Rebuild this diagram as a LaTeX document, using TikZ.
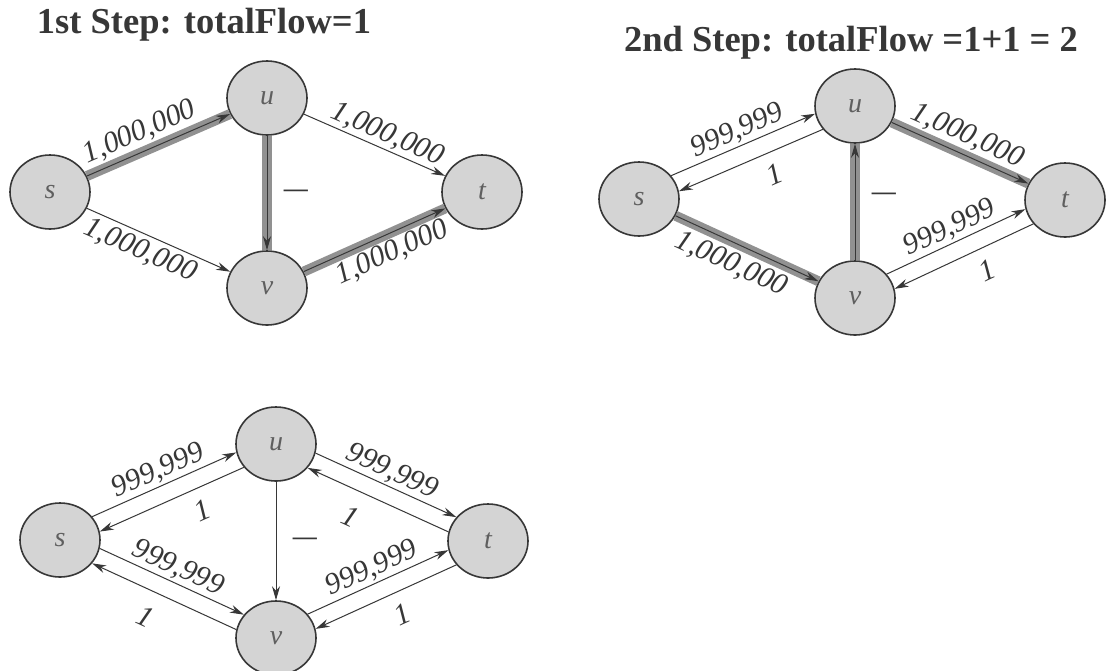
\documentclass[tikz,border=0pt]{standalone}
\usepackage{fontspec}
\setmainfont{Liberation Serif}
\usetikzlibrary{arrows.meta,shapes.geometric}
\definecolor{inkgray}{RGB}{55,55,55}
\definecolor{nodefill}{RGB}{212,212,212}
\definecolor{bandgray}{RGB}{145,145,145}

\begin{document}
\begin{tikzpicture}[
  x=1pt, y=-1pt,
  vertex/.style={
    ellipse, draw=inkgray, line width=1.6pt, fill=nodefill,
    minimum width=80pt, minimum height=74pt, inner sep=0pt,
    font=\fontsize{28}{30}\selectfont\itshape, text=inkgray!80
  },
  arrow/.style={-{Stealth[length=14pt,width=8pt]}, line width=1pt, draw=inkgray},
  flow/.style={line width=10pt, draw=bandgray},
  lbl/.style={font=\fontsize{30}{32}\selectfont\itshape, text=inkgray, inner sep=2pt, sloped},
  dashlbl/.style={font=\fontsize{24}{26}\selectfont\bfseries, text=inkgray, right=13pt},
  title/.style={font=\fontsize{36.5}{40}\selectfont\bfseries, text=inkgray}
]
\useasboundingbox[fill=white] (0,0) rectangle (1107,670);

% step 1
\node[title] (head1) at (204,25) {1st Step: totalFlow=1};
\node[vertex] (s1) at (50,192) {s};
\node[vertex] (u1) at (267,98) {u};
\node[vertex] (v1) at (267,288) {v};
\node[vertex] (t1) at (482,192) {t};

\draw[flow] (s1) -- (u1);
\draw[flow] (u1) -- (v1);
\draw[flow] (v1) -- (t1);
\draw[arrow] (s1) -- node[lbl, above=4pt, pos=0.42] {1,000,000} (u1);
\draw[arrow] (u1) -- node[lbl, above, pos=0.55] {1,000,000} (t1);
\draw[arrow] (s1) -- node[lbl, below=2pt, pos=0.42] {1,000,000} (v1);
\draw[arrow] (u1) -- node[dashlbl] {—} (v1);
\draw[arrow] (v1) -- node[lbl, below=4pt, pos=0.57] {1,000,000} (t1);

% step 2
\node[title] (head2) at (851,43) {2nd Step: totalFlow =1+1 = 2};
\node[vertex] (s2) at (639,199) {s};
\node[vertex] (u2) at (855,106) {u};
\node[vertex] (v2) at (855,298) {v};
\node[vertex] (t2) at (1065,200) {t};

\draw[flow] (u2) -- (t2);
\draw[flow] (s2) -- (v2);
\draw[flow] (v2) -- (u2);
\draw[arrow] (s2.36) -- node[lbl, above] {999,999} (u2.191);
\draw[arrow] (u2.216) -- node[lbl, below=10pt, pos=0.4] {1} (s2.11);
\draw[arrow] (u2) -- node[lbl, above=4pt] {1,000,000} (t2);
\draw[arrow] (s2) -- node[lbl, below=6pt, pos=0.45] {1,000,000} (v2);
\draw[arrow] (v2) -- node[dashlbl, pos=0.55] {—} (u2);
\draw[arrow] (v2.37) -- node[lbl, above] {999,999} (t2.193);
\draw[arrow] (t2.217) -- node[lbl, below=10pt, pos=0.4] {1} (v2.13);

% step 3
\node[vertex] (s3) at (60,540) {s};
\node[vertex] (u3) at (276,444) {u};
\node[vertex] (v3) at (276,638) {v};
\node[vertex] (t3) at (488,541) {t};

\draw[arrow] (s3.36) -- node[lbl, above] {999,999} (u3.192);
\draw[arrow] (u3.216) -- node[lbl, below=10pt, pos=0.35] {1} (s3.12);
\draw[arrow] (u3.-13) -- node[lbl, above] {999,999} (t3.143);
\draw[arrow] (t3.167) -- node[lbl, below=14pt, pos=0.62] {1} (u3.-37);
\draw[arrow] (s3.-12) -- node[lbl, above] {999,999} (v3.144);
\draw[arrow] (v3.168) -- node[lbl, below=14pt, pos=0.55] {1} (s3.-36);
\draw[arrow] (u3) -- node[dashlbl] {—} (v3);
\draw[arrow] (v3.37) -- node[lbl, above] {999,999} (t3.193);
\draw[arrow] (t3.217) -- node[lbl, below=10pt, pos=0.45] {1} (v3.13);
\end{tikzpicture}
\end{document}
